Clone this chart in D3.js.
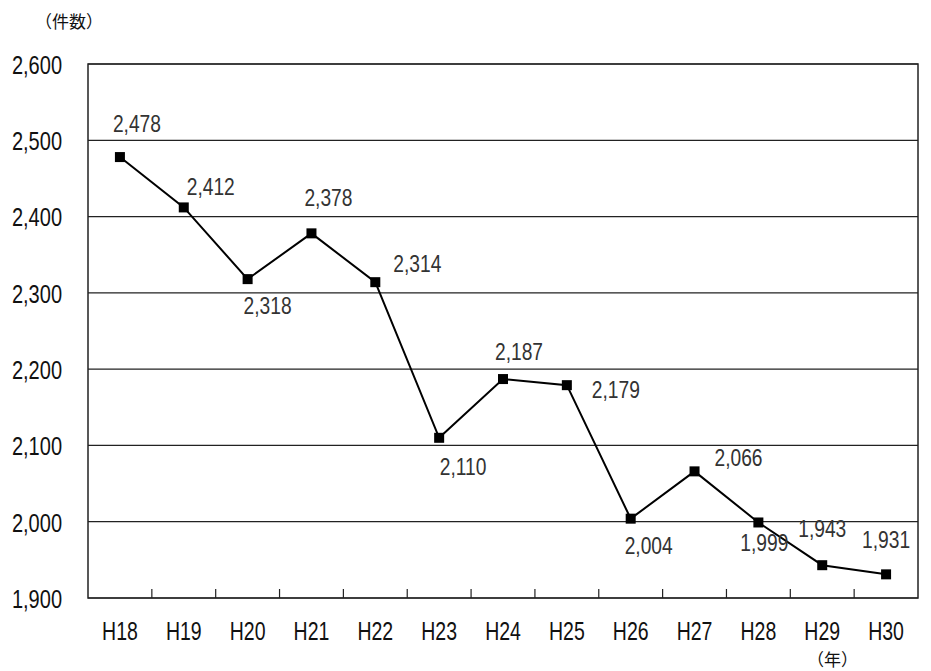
<!DOCTYPE html>
<html lang="ja">
<head>
  <meta charset="UTF-8" />
  <title>件数の推移</title>
  <script src="https://d3js.org/d3.v7.min.js"></script>
  <style>
    body { margin: 0; background: #fff; }
    svg text { font-family: "Liberation Sans", Arial, sans-serif; fill: #111; }
    .cjk { font-family: "Noto Sans CJK JP", sans-serif !important; }
  </style>
</head>
<body>
  <svg id="chart" width="931" height="671"></svg>
  <script>
    const YEARS = ["H18", "H19", "H20", "H21", "H22", "H23", "H24", "H25", "H26", "H27", "H28", "H29", "H30"];
    const COUNTS = [2478, 2412, 2318, 2378, 2314, 2110, 2187, 2179, 2004, 2066, 1999, 1943, 1931];
    const Y_TICKS = [1900, 2000, 2100, 2200, 2300, 2400, 2500, 2600];

    // label placement relative to each marker (dx, baseline dy)
    const LABEL_OFFSETS = [
      [17, -25], [27, -12], [20, 35], [17, -27], [42, -10], [24, 37], [16, -19],
      [49, 13], [18, 35], [44, -5], [6, 29], [0, -28], [0, -26]
    ];

    const margin = { top: 64, right: 13, bottom: 73, left: 88 };
    const width = 931 - margin.left - margin.right;
    const height = 671 - margin.top - margin.bottom;

    // squeeze text horizontally to mimic the narrow font of the original
    function condense(sel, k) {
      sel.each(function () {
        const t = d3.select(this);
        const xv = +(t.attr("x") || 0);
        t.attr("x", xv / k).attr("transform", `scale(${k},1)`);
      });
    }

    const svg = d3.select("#chart");
    const g = svg.append("g").attr("transform", `translate(${margin.left},${margin.top})`);

    const x = d3.scaleBand().domain(YEARS).range([0, width]);
    const y = d3.scaleLinear().domain([1900, 2600]).range([height, 0]);

    // gridlines
    g.selectAll(".grid")
      .data(Y_TICKS)
      .enter()
      .append("line")
      .attr("x1", 0).attr("x2", width)
      .attr("y1", d => y(d)).attr("y2", d => y(d))
      .attr("stroke", "#222").attr("stroke-width", 1.2);

    // frame
    g.append("rect")
      .attr("width", width).attr("height", height)
      .attr("fill", "none").attr("stroke", "#222").attr("stroke-width", 1.5);

    // y axis labels
    g.append("g")
      .call(d3.axisLeft(y).tickValues(Y_TICKS).tickSize(0).tickPadding(26).tickFormat(d3.format(",")))
      .call(a => a.select(".domain").remove())
      .selectAll("text")
      .attr("font-size", "26px").attr("fill", "#111").attr("dy", "0.36em")
      .call(condense, 0.77);

    // x axis
    const xAxis = g.append("g")
      .attr("transform", `translate(0,${height})`)
      .call(d3.axisBottom(x).tickSize(0).tickPadding(24));
    xAxis.select(".domain").remove();
    xAxis.selectAll("text")
      .attr("font-size", "25px").attr("fill", "#111")
      .call(condense, 0.78);

    // tick marks between categories
    g.selectAll(".xtick")
      .data(YEARS.slice(1))
      .enter()
      .append("line")
      .attr("x1", d => x(d)).attr("x2", d => x(d))
      .attr("y1", height).attr("y2", height - 9)
      .attr("stroke", "#222").attr("stroke-width", 1.2);

    const cx = d => x(d) + x.bandwidth() / 2;

    const line = d3.line()
      .x((d, i) => cx(YEARS[i]))
      .y(d => y(d));

    g.append("path")
      .datum(COUNTS)
      .attr("d", line)
      .attr("fill", "none")
      .attr("stroke", "#000")
      .attr("stroke-width", 2);

    g.selectAll(".marker")
      .data(COUNTS)
      .enter()
      .append("rect")
      .attr("x", (d, i) => cx(YEARS[i]) - 5)
      .attr("y", d => y(d) - 5)
      .attr("width", 10).attr("height", 10)
      .attr("fill", "#000");

    g.selectAll(".vlabel")
      .data(COUNTS)
      .enter()
      .append("text")
      .attr("x", (d, i) => cx(YEARS[i]) + LABEL_OFFSETS[i][0])
      .attr("y", (d, i) => y(d) + LABEL_OFFSETS[i][1])
      .attr("text-anchor", "middle")
      .attr("font-size", "24px")
      .style("fill", "#333")
      .text(d => d3.format(",")(d))
      .call(condense, 0.8);

    svg.append("text")
      .attr("class", "cjk")
      .attr("x", 35).attr("y", 28)
      .attr("font-size", "17px")
      .text("（件数）");

    svg.append("text")
      .attr("class", "cjk")
      .attr("x", 807).attr("y", 666)
      .attr("font-size", "17px")
      .text("（年）");
  </script>
</body>
</html>
